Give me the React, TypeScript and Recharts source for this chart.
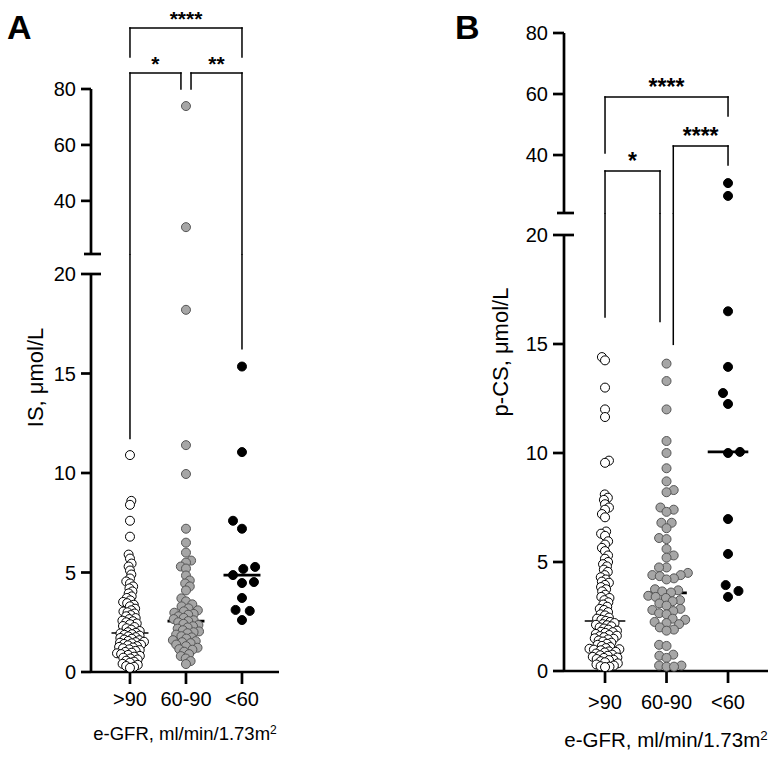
import React from 'react';
import { ScatterChart, Scatter, XAxis, YAxis, ReferenceLine } from 'recharts';

const GROUPS = ['>90', '60-90', '<60'];

// Panel A: IS, µmol/L per e-GFR group
const IS_HIGH = [
  10.9, 8.6, 8.4, 7.6, 6.8, 5.9, 5.7, 5.45, 5.3, 5.1,
  4.9, 4.7, 4.55, 4.45, 4.3, 4.2, 4.05,
  3.95, 3.8, 3.72, 3.6, 3.52, 3.46, 3.38, 3.3, 3.18, 3.1, 3.04, 3.0,
  2.94, 2.86, 2.8, 2.71, 2.66, 2.58, 2.55, 2.5,
  2.44, 2.4, 2.31, 2.26, 2.2, 2.13, 2.06, 2.0,
  1.97, 1.94, 1.9, 1.87, 1.83, 1.79, 1.75, 1.71, 1.67, 1.63, 1.6, 1.56, 1.52, 1.5,
  1.47, 1.44, 1.41, 1.37, 1.34, 1.3, 1.26, 1.23, 1.19, 1.14, 1.1, 1.06, 1.01,
  0.97, 0.94, 0.9, 0.86, 0.81, 0.77, 0.72, 0.68, 0.63, 0.57, 0.52,
  0.47, 0.41, 0.36, 0.3, 0.26, 0.21,
];
const IS_MID = [
  73.9, 30.6, 18.2, 11.4, 9.95, 7.2, 6.5, 6.0, 5.6, 5.5, 5.3, 5.2,
  4.85, 4.6, 4.45, 4.3, 4.1, 3.7, 3.55,
  3.4, 3.3, 3.2, 3.1, 3.05, 2.98,
  2.92, 2.88, 2.8, 2.72, 2.66, 2.6, 2.56,
  2.5, 2.42, 2.36, 2.3, 2.24, 2.18, 2.1, 2.04, 2.0,
  1.95, 1.88, 1.8, 1.74, 1.68, 1.6, 1.55, 1.5,
  1.45, 1.38, 1.3, 1.22, 1.15, 1.12, 1.02,
  0.9, 0.8, 0.68, 0.55, 0.4,
];
const IS_LOW = [15.35, 11.05, 7.6, 7.2, 5.28, 5.18, 4.87, 4.52, 4.47, 3.72, 3.12, 3.07, 2.61];
const IS_MEDIANS = [1.96, 2.56, 4.87];

// Panel B: p-CS, µmol/L per e-GFR group
const PCS_HIGH = [
  14.4, 14.25, 13.0, 12.0, 11.65, 9.65, 9.55,
  8.1, 7.95, 7.85, 7.65, 7.5, 7.4, 7.2, 7.05,
  6.4, 6.3, 6.2, 5.95, 5.8, 5.65, 5.5, 5.3, 5.15, 5.0,
  4.9, 4.8, 4.65, 4.55, 4.4, 4.3, 4.2, 4.1, 4.05,
  3.95, 3.85, 3.75, 3.65, 3.5, 3.4, 3.35, 3.25, 3.15, 3.05,
  2.95, 2.85, 2.8, 2.7, 2.6, 2.55, 2.45, 2.4, 2.35, 2.3,
  2.25, 2.2, 2.15, 2.12, 2.1, 2.05, 2.0,
  1.95, 1.9, 1.85, 1.8, 1.78, 1.75, 1.7, 1.65, 1.62, 1.6, 1.55, 1.5,
  1.48, 1.45, 1.4, 1.35, 1.3, 1.25, 1.2, 1.15, 1.1, 1.05, 1.02, 1.0,
  0.98, 0.95, 0.9, 0.88, 0.85, 0.8, 0.75, 0.72, 0.7, 0.65, 0.62, 0.6, 0.55, 0.52, 0.5,
  0.45, 0.4, 0.35, 0.3, 0.25, 0.22, 0.2, 0.18,
];
const PCS_MID = [
  14.1, 13.3, 12.0, 10.55, 10.0, 9.3, 8.7, 8.3, 8.2, 7.5, 7.4, 7.3, 6.8, 6.8, 6.55,
  6.1, 6.05, 5.6, 5.3, 5.2, 4.75, 4.75, 4.5, 4.4, 4.4, 4.35, 4.25, 4.2,
  3.75, 3.7, 3.65, 3.6, 3.45, 3.4, 3.35, 3.25, 3.2, 3.1, 3.0, 2.85, 2.8, 2.75,
  2.65, 2.6, 2.4, 2.35, 2.25, 2.2, 2.15, 2.0, 1.9, 1.85, 1.2, 1.15,
  0.75, 0.7, 0.6, 0.25, 0.25, 0.2, 0.2,
];
const PCS_LOW = [30.8, 26.6, 16.5, 13.95, 12.75, 12.25, 10.05, 10.0, 6.97, 5.37, 3.94, 3.67, 3.4];
const PCS_MEDIANS = [2.29, 3.58, 10.05];

const LOWER_TICKS = [0, 5, 10, 15, 20];
const UPPER_TICKS = [40, 60, 80];

// significance brackets: x in group units, top in upper-segment units,
// leg ends below 21 continue into the lower segment
const IS_BRACKETS = [
  { label: '****', x1: 0, x2: 2, top: 101.8, end1: 91.4, end2: 91.4 },
  { label: '*', x1: 0, x2: 0.91, top: 85.7, end1: 11.7, end2: 80 },
  { label: '**', x1: 1.09, x2: 2, top: 85.7, end1: 80, end2: 16.2 },
];
const PCS_BRACKETS = [
  { label: '****', x1: 0, x2: 2, top: 59.0, end1: 40.7, end2: 52.8 },
  { label: '*', x1: 0, x2: 0.894, top: 34.8, end1: 16.2, end2: 16.0 },
  { label: '****', x1: 1.11, x2: 2, top: 42.95, end1: 14.95, end2: 36.7 },
];

const DOT_STYLES = [
  { fill: '#ffffff', stroke: '#000000' },
  { fill: '#a6a6a6', stroke: '#555555' },
  { fill: '#000000', stroke: '#000000' },
];

const BREAK_LOW = 21;
const AXIS = { stroke: '#000', strokeWidth: 2.7 };

// greedy beeswarm: horizontal pixel offsets so dots don't collide
function swarm(vals: number[], pxPerUnit: number, d: number): number[] {
  const order = vals.map((_, i) => i).sort((a, b) => vals[a] - vals[b]);
  const placed: { x: number; y: number }[] = [];
  const out = new Array(vals.length).fill(0);
  let lastSide = -1;
  for (const i of order) {
    const y = vals[i] * pxPerUnit;
    const near = placed.filter(p => Math.abs(p.y - y) < d);
    const cands = [0];
    near.forEach(p => {
      const dx = Math.sqrt(d * d - (p.y - y) ** 2);
      cands.push(p.x + dx, p.x - dx);
    });
    let best = 0;
    let bestScore = Infinity;
    for (const c of cands) {
      const ok = near.every(p => (p.x - c) ** 2 + (p.y - y) ** 2 >= d * d - 1e-6);
      if (!ok) continue;
      const score = Math.abs(c) + (Math.sign(c) === lastSide ? 0.01 : 0);
      if (score < bestScore) {
        bestScore = score;
        best = c;
      }
    }
    if (best !== 0) lastSide = Math.sign(best);
    out[i] = best;
    placed.push({ x: best, y });
  }
  return out;
}

interface PanelCfg {
  left: number;
  axisW: number;
  plotW: number;
  xDomain: [number, number];
  topY: number;
  breakY: number;
  gap: number;
  zeroY: number;
  yTickSize: number;
  xTickMargin: number;
  starSize: number;
}

const PANEL_A: PanelCfg = {
  left: 0, axisW: 91, plotW: 188, xDomain: [-0.696, 2.661],
  topY: 89, breakY: 254, gap: 20, zeroY: 672,
  yTickSize: 10, xTickMargin: 8, starSize: 21,
};
const PANEL_B: PanelCfg = {
  left: 390, axisW: 174, plotW: 204, xDomain: [-0.667, 2.65],
  topY: 33, breakY: 213, gap: 22, zeroY: 671,
  yTickSize: 11, xTickMargin: 12, starSize: 23,
};

const dotShape = (g: number) => (p: any) => (
  <circle cx={p.cx} cy={p.cy} r={4.5} fill={DOT_STYLES[g].fill} stroke={DOT_STYLES[g].stroke} strokeWidth={1} />
);

function Panel({ cfg, groups, medians, brackets, diams }: {
  cfg: PanelCfg;
  groups: number[][];
  medians: number[];
  brackets: typeof IS_BRACKETS;
  diams: number[];
}) {
  const lowerPlotH = cfg.zeroY - cfg.breakY - cfg.gap;
  const pxLower = lowerPlotH / 20;
  const pxUpper = (cfg.breakY - cfg.topY) / (80 - BREAK_LOW);
  const pxX = cfg.plotW / (cfg.xDomain[1] - cfg.xDomain[0]);
  const lowerTopVal = 20 + cfg.gap / pxLower;
  const xl = cfg.xDomain[0];
  const width = cfg.axisW + cfg.plotW + 12;

  const lowerSeries = groups.map((vals, g) => {
    const v = vals.filter(x => x <= 20);
    const off = swarm(v, pxLower, diams[g]);
    return v.map((y, i) => ({ x: g + off[i] / pxX, y }));
  });
  const upperSeries = groups.map((vals, g) => {
    const v = vals.filter(x => x > 20);
    const off = swarm(v, pxUpper, diams[g]);
    return v.map((y, i) => ({ x: g + off[i] / pxX, y }));
  });

  const bracketLine = { stroke: '#000', strokeWidth: 1.5, strokeLinecap: 'square' as const, ifOverflow: 'visible' as const };

  return (
    <>
      {/* upper segment (21-80) with significance brackets */}
      <div style={{ position: 'absolute', left: cfg.left, top: 0 }}>
        <ScatterChart width={width} height={cfg.breakY + 10} margin={{ top: cfg.topY, right: 12, bottom: 10, left: 0 }}>
          <XAxis type="number" dataKey="x" domain={cfg.xDomain} hide />
          <YAxis
            type="number" dataKey="y" domain={[BREAK_LOW, 80]} ticks={UPPER_TICKS} interval={0}
            width={cfg.axisW} axisLine={AXIS} tickLine={AXIS} tickSize={cfg.yTickSize} tickMargin={5}
            tick={{ fill: '#000', fontSize: 20 }}
          />
          <ReferenceLine
            segment={[{ x: xl - 7 / pxX, y: BREAK_LOW }, { x: xl + 10 / pxX, y: BREAK_LOW }]}
            {...AXIS} ifOverflow="visible"
          />
          {brackets.map((b, i) => (
            <ReferenceLine
              key={`h${i}`}
              segment={[{ x: b.x1, y: b.top }, { x: b.x2, y: b.top }]}
              {...bracketLine}
              label={{ value: b.label, position: 'top', offset: 2, fill: '#000', fontSize: cfg.starSize, fontWeight: 'bold' }}
            />
          ))}
          {brackets.flatMap((b, i) => [
            <ReferenceLine key={`l${i}`} segment={[{ x: b.x1, y: b.top }, { x: b.x1, y: Math.max(b.end1, BREAK_LOW) }]} {...bracketLine} />,
            <ReferenceLine key={`r${i}`} segment={[{ x: b.x2, y: b.top }, { x: b.x2, y: Math.max(b.end2, BREAK_LOW) }]} {...bracketLine} />,
          ])}
          {upperSeries.map((data, g) => (
            <Scatter key={g} data={data} shape={dotShape(g)} isAnimationActive={false} />
          ))}
        </ScatterChart>
      </div>

      {/* lower segment (0-20) */}
      <div style={{ position: 'absolute', left: cfg.left, top: cfg.breakY }}>
        <ScatterChart width={width} height={cfg.gap + lowerPlotH + 45} margin={{ top: cfg.gap, right: 12, bottom: 0, left: 0 }}>
          <XAxis
            type="number" dataKey="x" domain={cfg.xDomain} ticks={[0, 1, 2]} interval={0}
            tickFormatter={(v: number) => GROUPS[v]} height={45}
            axisLine={AXIS} tickLine={AXIS} tickSize={12} tickMargin={cfg.xTickMargin}
            tick={{ fill: '#000', fontSize: 20 }}
          />
          <YAxis
            type="number" dataKey="y" domain={[0, 20]} ticks={LOWER_TICKS} interval={0}
            width={cfg.axisW} axisLine={AXIS} tickLine={AXIS} tickSize={cfg.yTickSize} tickMargin={5}
            tick={{ fill: '#000', fontSize: 20 }}
          />
          <ReferenceLine
            segment={[{ x: xl, y: 20 }, { x: xl + 10 / pxX, y: 20 }]}
            {...AXIS} ifOverflow="visible"
          />
          {brackets.flatMap((b, i) => {
            const legs = [];
            if (b.end1 < BREAK_LOW) legs.push(
              <ReferenceLine key={`l${i}`} segment={[{ x: b.x1, y: b.end1 }, { x: b.x1, y: lowerTopVal }]} {...bracketLine} strokeLinecap="butt" />
            );
            if (b.end2 < BREAK_LOW) legs.push(
              <ReferenceLine key={`r${i}`} segment={[{ x: b.x2, y: b.end2 }, { x: b.x2, y: lowerTopVal }]} {...bracketLine} strokeLinecap="butt" />
            );
            return legs;
          })}
          {medians.map((m, g) => (
            <ReferenceLine
              key={`m${g}`}
              segment={[{ x: g - 0.33, y: m }, { x: g + 0.33, y: m }]}
              stroke="#000" strokeWidth={g === 0 ? 1.5 : 2.7} ifOverflow="visible"
            />
          ))}
          {lowerSeries.map((data, g) => (
            <Scatter key={g} data={data} shape={dotShape(g)} isAnimationActive={false} />
          ))}
        </ScatterChart>
      </div>
    </>
  );
}

export default function App() {
  return (
    <div
      style={{
        position: 'absolute', left: 0, top: 0, width: 780, height: 759,
        background: '#fff', fontFamily: '"Liberation Sans", Arial, sans-serif', color: '#000',
      }}
    >
      <Panel cfg={PANEL_A} groups={[IS_HIGH, IS_MID, IS_LOW]} medians={IS_MEDIANS} brackets={IS_BRACKETS} diams={[4.2, 5.5, 12]} />
      <Panel cfg={PANEL_B} groups={[PCS_HIGH, PCS_MID, PCS_LOW]} medians={PCS_MEDIANS} brackets={PCS_BRACKETS} diams={[4.5, 7.5, 12]} />

      {/* panel letters and axis titles */}
      <svg width={780} height={759} style={{ position: 'absolute', left: 0, top: 0, pointerEvents: 'none' }}>
        <text x={7} y={39} fontSize={34} fontWeight="bold">A</text>
        <text x={455} y={39} fontSize={34} fontWeight="bold">B</text>
        <text transform="translate(35,377.5) rotate(-90)" textAnchor="middle" dy="0.36em" fontSize={22}>IS, μmol/L</text>
        <text transform="translate(500.5,352) rotate(-90)" textAnchor="middle" dy="0.36em" fontSize={22}>p-CS, μmol/L</text>
        <text x={185} y={740} textAnchor="middle" fontSize={18.5}>
          e-GFR, ml/min/1.73m<tspan dy="-0.5em" fontSize="0.65em">2</tspan>
        </text>
        <text x={666} y={747} textAnchor="middle" fontSize={20.5}>
          e-GFR, ml/min/1.73m<tspan dy="-0.5em" fontSize="0.65em">2</tspan>
        </text>
      </svg>
    </div>
  );
}
